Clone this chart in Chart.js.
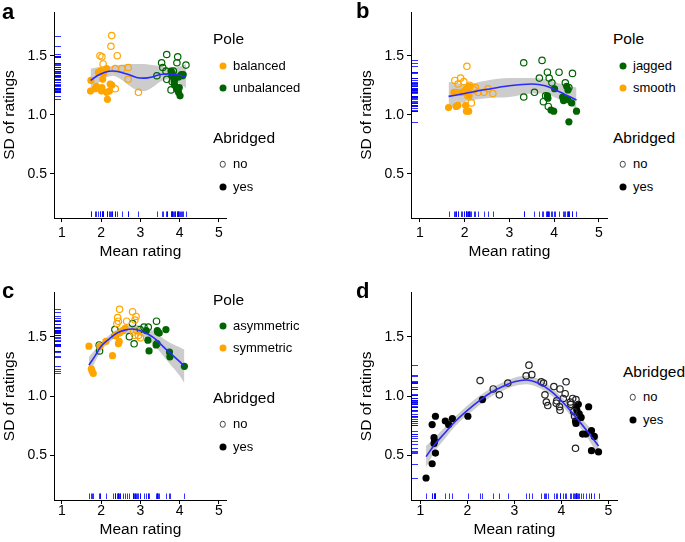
<!DOCTYPE html>
<html><head><meta charset="utf-8">
<script src="https://cdn.jsdelivr.net/npm/chart.js@4"></script>
<style>
body{margin:0;background:#fff;width:685px;height:542px;position:relative;overflow:hidden;font-family:"Liberation Sans",Arial,Helvetica,sans-serif;}
canvas{position:absolute}
.lab{position:absolute;font-weight:bold;font-size:22px;line-height:1;color:#000}
.lt{position:absolute;font-size:15.5px;color:#000;line-height:1;transform:translateY(-50%);white-space:nowrap}
.li{position:absolute;font-size:13px;color:#000;line-height:1;transform:translateY(-50%);white-space:nowrap}
.dot{position:absolute;width:7px;height:7px;border-radius:50%;transform:translate(-50%,-50%);box-sizing:border-box}
</style></head>
<body>
<canvas id="ca" width="232" height="262" style="left:0;top:0;width:232px;height:262px"></canvas>
<canvas id="cb" width="256" height="262" style="left:357px;top:0;width:256px;height:262px"></canvas>
<canvas id="cc" width="232" height="262" style="left:0;top:278px;width:232px;height:262px"></canvas>
<canvas id="cd" width="266" height="262" style="left:357px;top:278px;width:266px;height:262px"></canvas>
<div class="lab" style="left:2px;top:1px">a</div>
<div class="lab" style="left:356px;top:0px">b</div>
<div class="lab" style="left:2px;top:280px">c</div>
<div class="lab" style="left:356px;top:280px">d</div>
<div id="legends"></div>
<script>
// ---------- shared axis ticks ----------
const xTicks = [1, 2, 3, 4, 5];
const yTicks = [0.5, 1.0, 1.5];
const yTickLabels = ["0.5", "1.0", "1.5"];

// ---------- panel a (Pole: balanced / unbalanced) ----------
const aBalancedNo = [[1.97,1.50],[2.02,1.49],[2.05,1.43],[2.25,1.58],[2.27,1.67],[2.41,1.50],[2.36,1.39],[2.53,1.39],[2.69,1.40],[2.69,1.30],[2.36,1.22],[2.95,1.19]];
const aBalancedYes = [[1.74,1.29],[1.73,1.20],[1.85,1.22],[1.88,1.24],[1.93,1.36],[1.98,1.37],[2.02,1.23],[2.01,1.20],[2.04,1.30],[2.06,1.35],[2.14,1.39],[2.14,1.19],[2.21,1.20],[2.23,1.26],[2.27,1.25],[2.16,1.13]];
const aUnbalancedNo = [[3.42,1.33],[3.54,1.44],[3.57,1.40],[3.65,1.37],[3.67,1.51],[3.67,1.30],[3.78,1.21],[3.81,1.28],[3.84,1.37],[3.93,1.44],[3.95,1.49],[4.16,1.42]];
const aUnbalancedYes = [[3.78,1.37],[3.81,1.35],[3.80,1.33],[3.86,1.28],[3.88,1.30],[3.87,1.25],[3.92,1.22],[3.97,1.19],[4.01,1.16],[3.97,1.32],[4.04,1.34],[4.07,1.33],[4.09,1.34],[3.99,1.23]];
const aFitX = [1.73,1.9,2.1,2.3,2.5,2.7,2.9,3.1,3.3,3.5,3.7,3.9,4.1,4.16];
const aFitY = [1.29,1.33,1.36,1.37,1.36,1.34,1.315,1.31,1.32,1.34,1.345,1.34,1.325,1.32];
const aUpper = [1.39,1.40,1.41,1.41,1.42,1.43,1.43,1.43,1.42,1.41,1.40,1.40,1.42,1.43];
const aLower = [1.20,1.26,1.31,1.33,1.30,1.25,1.21,1.20,1.23,1.28,1.30,1.28,1.24,1.22];

// ---------- panel b (Pole: jagged / smooth) ----------
const bSmoothNo = [[1.78,1.29],[1.85,1.26],[1.91,1.31],[1.98,1.28],[2.05,1.41],[2.11,1.25],[2.21,1.21],[2.24,1.23],[2.07,1.16],[2.15,1.10],[2.30,1.19],[2.43,1.19],[2.52,1.22],[2.63,1.18]];
const bSmoothYes = [[1.64,1.06],[1.76,1.19],[1.81,1.19],[1.81,1.07],[1.85,1.08],[1.93,1.19],[1.99,1.20],[2.04,1.22],[2.07,1.21],[2.10,1.24],[2.02,1.08],[2.04,1.03],[2.09,1.03],[2.10,1.16],[2.04,1.19]];
const bJaggedNo = [[3.32,1.44],[3.73,1.46],[3.67,1.31],[3.85,1.36],[3.89,1.31],[4.11,1.36],[4.41,1.35],[3.95,1.27],[4.25,1.27],[4.33,1.23],[3.56,1.19],[3.32,1.15],[3.81,1.16],[3.76,1.11],[3.87,1.07]];
const bJaggedYes = [[4.01,1.22],[3.85,1.16],[3.86,1.14],[4.28,1.24],[4.31,1.21],[4.19,1.15],[4.21,1.12],[4.30,1.13],[4.39,1.10],[3.93,1.04],[3.99,1.03],[4.50,1.03],[4.33,0.94]];
const bFitX = [1.64,2.0,2.5,3.0,3.5,3.8,4.0,4.25,4.5];
const bFitY = [1.155,1.18,1.215,1.245,1.26,1.245,1.215,1.17,1.125];
const bUpper = [1.28,1.26,1.29,1.31,1.31,1.30,1.28,1.25,1.23];
const bLower = [1.05,1.11,1.14,1.15,1.18,1.18,1.15,1.10,1.05];

// ---------- panel c (Pole: asymmetric / symmetric) ----------
const cSymmetricNo = [[2.47,1.73],[2.42,1.66],[2.44,1.63],[2.40,1.61],[2.80,1.71],[2.89,1.67],[2.86,1.64],[2.65,1.63],[2.91,1.55],[2.82,1.54],[2.95,1.51],[2.86,1.51],[3.00,1.49]];
const cSymmetricYes = [[1.69,1.42],[1.75,1.23],[1.77,1.21],[1.80,1.19],[1.97,1.42],[2.12,1.46],[2.29,1.34],[2.36,1.51],[2.44,1.44],[2.46,1.46],[2.47,1.53],[2.55,1.55],[2.61,1.57]];
const cAsymmetricNo = [[1.95,1.43],[1.96,1.38],[2.35,1.56],[2.36,1.51],[2.80,1.61],[2.72,1.50],[2.84,1.44],[2.99,1.56],[3.09,1.58],[3.20,1.58],[3.41,1.63],[3.42,1.44]];
const cAsymmetricYes = [[3.15,1.55],[3.19,1.47],[3.22,1.38],[3.43,1.55],[3.48,1.53],[3.65,1.56],[3.40,1.43],[3.74,1.37],[3.75,1.33],[4.12,1.25],[3.44,1.54]];
const cFitX = [1.69,1.85,2.0,2.2,2.4,2.6,2.8,3.0,3.2,3.4,3.6,3.8,4.0,4.12];
const cFitY = [1.26,1.34,1.42,1.48,1.53,1.555,1.565,1.55,1.52,1.475,1.41,1.35,1.29,1.25];
const cUpper = [1.33,1.39,1.45,1.51,1.56,1.59,1.60,1.59,1.57,1.53,1.48,1.44,1.41,1.39];
const cLower = [1.18,1.29,1.38,1.45,1.50,1.52,1.53,1.51,1.47,1.41,1.33,1.25,1.17,1.11];

// ---------- panel d (Abridged only) ----------
const dNo = [[2.27,1.13],[2.55,1.06],[2.68,1.01],[2.86,1.11],[3.25,1.17],[3.31,1.26],[3.37,1.18],[3.57,1.12],[3.62,1.11],[3.65,1.01],[3.68,0.95],[3.71,0.92],[3.84,1.08],[3.97,1.06],[3.90,0.96],[3.89,0.94],[3.96,0.91],[3.97,0.88],[4.04,0.98],[4.10,1.12],[4.08,1.02],[4.19,0.95],[4.24,0.98],[4.28,0.83],[4.30,0.56],[4.26,0.87],[4.31,0.97],[4.20,0.93]];
const dYes = [[1.12,0.31],[1.25,0.43],[1.32,0.83],[1.25,0.76],[1.29,0.65],[1.30,0.62],[1.29,0.60],[1.32,0.52],[1.53,0.79],[1.60,0.76],[1.68,0.81],[2.01,0.83],[2.32,0.97],[4.31,0.91],[4.36,0.93],[4.58,0.91],[4.33,0.88],[4.38,0.85],[4.42,0.82],[4.31,0.77],[4.30,0.79],[4.45,0.68],[4.52,0.68],[4.64,0.71],[4.70,0.66],[4.64,0.54],[4.79,0.53]];
const dFitX = [1.12,1.3,1.5,1.75,2.0,2.25,2.5,2.75,3.0,3.25,3.5,3.75,4.0,4.25,4.5,4.79];
const dFitY = [0.49,0.59,0.68,0.79,0.88,0.96,1.03,1.08,1.12,1.135,1.11,1.05,0.96,0.85,0.73,0.58];
const dUpper = [0.58,0.65,0.73,0.83,0.92,1.00,1.065,1.115,1.155,1.17,1.145,1.085,0.995,0.89,0.78,0.66];
const dLower = [0.40,0.53,0.63,0.75,0.84,0.92,0.995,1.045,1.085,1.10,1.075,1.015,0.925,0.81,0.68,0.50];

// ---------- styling ----------
const ORANGE = '#FFA500', GREEN = '#006400', BLACK = '#000000';
const FONT = '"Liberation Sans", Arial, Helvetica, sans-serif';
Chart.defaults.font.family = FONT;

function toXY(xs, ys){ return xs.map((x,i)=>({x:x, y:ys[i]})); }
function toPts(arr){ return arr.map(p=>({x:p[0], y:p[1]})); }

function rugPlugin(xs, ys){
  return {id:'rug', afterDatasetsDraw(chart){
    const ctx = chart.ctx, a = chart.chartArea, sx = chart.scales.x, sy = chart.scales.y;
    ctx.save();
    ctx.strokeStyle = 'rgba(0,0,255,0.8)';
    ctx.lineWidth = 1;
    ctx.beginPath();
    xs.forEach(v=>{ const p = Math.round(sx.getPixelForValue(v)) + 0.5; ctx.moveTo(p, a.bottom - 1); ctx.lineTo(p, a.bottom - 6.5); });
    ys.forEach(v=>{ const p = Math.round(sy.getPixelForValue(v)) + 0.5; ctx.moveTo(a.left + 1, p); ctx.lineTo(a.left + 7, p); });
    ctx.stroke();
    ctx.restore();
  }};
}

function makePanel(id, geo, groups, fx, fy, up, lo){
  const datasets = [];
  datasets.push({label:'fit', data:toXY(fx, fy), showLine:true, borderColor:'#2a2aff', borderWidth:1.6,
    pointRadius:0, tension:0.4, cubicInterpolationMode:'monotone', fill:false, order:0});
  groups.forEach(g=>{
    datasets.push({label:g.name, data:toPts(g.pts), showLine:false,
      pointRadius: g.filled ? 3.6 : 3.2,
      pointBackgroundColor: g.filled ? g.color : 'rgba(0,0,0,0)',
      pointBorderColor: g.color,
      pointBorderWidth: g.filled ? 0 : 1.2,
      order:1});
  });
  const lowerIndex = datasets.length + 1;
  datasets.push({label:'upper', data:toXY(fx, up), showLine:true, borderColor:'rgba(0,0,0,0)', borderWidth:1,
    pointRadius:0, tension:0.4, cubicInterpolationMode:'monotone', fill:{target:lowerIndex},
    backgroundColor:'rgba(153,153,153,0.5)', order:2});
  datasets.push({label:'lower', data:toXY(fx, lo), showLine:true, borderColor:'rgba(0,0,0,0)', borderWidth:1,
    pointRadius:0, tension:0.4, cubicInterpolationMode:'monotone', fill:false, order:3});

  const allPts = groups.reduce((acc,g)=>acc.concat(g.pts), []);
  const rugX = allPts.map(p=>p[0]);
  const rugY = allPts.map(p=>p[1]);

  new Chart(document.getElementById(id), {
    type:'scatter',
    data:{datasets:datasets},
    plugins:[rugPlugin(rugX, rugY)],
    options:{
      responsive:false, animation:false, events:[],
      layout:{padding:{left:0, right:geo.padRight, top:geo.padTop, bottom:0}},
      plugins:{legend:{display:false}, tooltip:{enabled:false}},
      scales:{
        x:{type:'linear', position:'bottom', min:0.8, max:5.2,
          afterBuildTicks:(s)=>{ s.ticks = xTicks.map(v=>({value:v})); },
          afterFit:(s)=>{ s.height = geo.xAxisH; },
          ticks:{color:'#000', font:{size:14}, padding:geo.xTickPad, maxRotation:0, autoSkip:false, callback:(v)=>String(v)},
          grid:{drawOnChartArea:false, drawTicks:true, tickLength:4, color:'#000', lineWidth:1},
          border:{display:true, color:'#000', width:1},
          title:{display:true, text:'Mean rating', color:'#000', font:{size:15.5}, padding:{top:0, bottom:1}}
        },
        y:{type:'linear', position:'left', min:0.125, max:1.87,
          afterBuildTicks:(s)=>{ s.ticks = yTicks.map(v=>({value:v})); },
          afterFit:(s)=>{ s.width = geo.yAxisW; },
          ticks:{color:'#000', font:{size:14}, padding:3, autoSkip:false, callback:(v)=>yTickLabels[yTicks.indexOf(v)]},
          grid:{drawOnChartArea:false, drawTicks:true, tickLength:4, color:'#000', lineWidth:1},
          border:{display:true, color:'#000', width:1},
          title:{display:true, text:'SD of ratings', color:'#000', font:{size:15.5}, padding:{top:0, bottom:0}}
        }
      }
    }
  });
}

makePanel('ca', {padRight:5, padTop:12, xAxisH:44, yAxisW:54, xTickPad:3}, [
  {name:'balanced no', pts:aBalancedNo, color:ORANGE, filled:false},
  {name:'balanced yes', pts:aBalancedYes, color:ORANGE, filled:true},
  {name:'unbalanced no', pts:aUnbalancedNo, color:GREEN, filled:false},
  {name:'unbalanced yes', pts:aUnbalancedYes, color:GREEN, filled:true}
], aFitX, aFitY, aUpper, aLower);

makePanel('cb', {padRight:5, padTop:12, xAxisH:44, yAxisW:54, xTickPad:3}, [
  {name:'smooth no', pts:bSmoothNo, color:ORANGE, filled:false},
  {name:'smooth yes', pts:bSmoothYes, color:ORANGE, filled:true},
  {name:'jagged no', pts:bJaggedNo, color:GREEN, filled:false},
  {name:'jagged yes', pts:bJaggedYes, color:GREEN, filled:true}
], bFitX, bFitY, bUpper, bLower);

makePanel('cc', {padRight:5, padTop:14.7, xAxisH:40, yAxisW:54, xTickPad:-1}, [
  {name:'symmetric no', pts:cSymmetricNo, color:ORANGE, filled:false},
  {name:'symmetric yes', pts:cSymmetricYes, color:ORANGE, filled:true},
  {name:'asymmetric no', pts:cAsymmetricNo, color:GREEN, filled:false},
  {name:'asymmetric yes', pts:cAsymmetricYes, color:GREEN, filled:true}
], cFitX, cFitY, cUpper, cLower);

makePanel('cd', {padRight:5, padTop:14.7, xAxisH:40, yAxisW:54, xTickPad:-1}, [
  {name:'no', pts:dNo, color:'#222', filled:false},
  {name:'yes', pts:dYes, color:BLACK, filled:true}
], dFitX, dFitY, dUpper, dLower);

// ---------- legends (HTML text) ----------
const legendDefs = [
  {x:213, rows:[
    {title:'Pole', y:39},
    {text:'balanced', y:65.7, fill:ORANGE},
    {text:'unbalanced', y:88, fill:GREEN},
    {title:'Abridged', y:137.7},
    {text:'no', y:164, open:true},
    {text:'yes', y:187, fill:BLACK}]},
  {x:613, rows:[
    {title:'Pole', y:39},
    {text:'jagged', y:65.7, fill:GREEN},
    {text:'smooth', y:88, fill:ORANGE},
    {title:'Abridged', y:137.7},
    {text:'no', y:164, open:true},
    {text:'yes', y:187, fill:BLACK}]},
  {x:213, rows:[
    {title:'Pole', y:299.5},
    {text:'asymmetric', y:325.7, fill:GREEN},
    {text:'symmetric', y:348, fill:ORANGE},
    {title:'Abridged', y:397.7},
    {text:'no', y:424, open:true},
    {text:'yes', y:447, fill:BLACK}]},
  {x:623, rows:[
    {title:'Abridged', y:371.7},
    {text:'no', y:397, open:true},
    {text:'yes', y:419.5, fill:BLACK}]}
];
const host = document.getElementById('legends');
legendDefs.forEach(L=>{
  L.rows.forEach(r=>{
    if (r.title){
      const d = document.createElement('div'); d.className='lt'; d.textContent=r.title;
      d.style.left = L.x+'px'; d.style.top = r.y+'px'; host.appendChild(d);
    } else {
      const dot = document.createElement('div'); dot.className='dot';
      dot.style.left = (L.x+9.7)+'px'; dot.style.top = r.y+'px';
      if (r.open){ dot.style.border='1.2px solid #444'; dot.style.width='6.5px'; dot.style.height='6.5px'; }
      else { dot.style.background = r.fill; }
      host.appendChild(dot);
      const t = document.createElement('div'); t.className='li'; t.textContent=r.text;
      t.style.left = (L.x+20)+'px'; t.style.top = (r.y-1)+'px'; host.appendChild(t);
    }
  });
});
</script>
</body></html>
